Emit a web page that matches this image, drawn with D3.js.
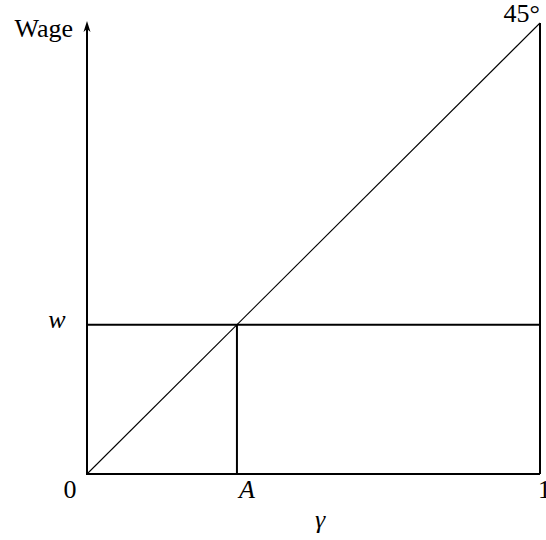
<html><head><script src="https://d3js.org/d3.v7.min.js"></script></head>
<body style="margin:0">
<script>
    // values (share of the unit square)
    const gammaRange = [0, 1];
    const wageRange = [0, 1];
    const pointA = 0.331;
    const wageW = 0.331;
    const diagonal = [[0, 0], [1, 1]];
    const xTickLabels = [{v: 0, t: "0", dx: -17}, {v: pointA, t: "A", it: true, dx: 10}, {v: 1, t: "1", dx: -2}];

    const svg = d3.select("body").append("svg").attr("width", 546).attr("height", 540);

    const x = d3.scaleLinear().domain(gammaRange).range([87, 540]);
    const y = d3.scaleLinear().domain(wageRange).range([474, 23]);

    const line = d3.line().x(d => x(d[0])).y(d => y(d[1]));

    // thin 45 degree line
    svg.append("path").attr("d", line(diagonal))
        .attr("fill", "none").attr("stroke", "#000").attr("stroke-width", 1.1);

    const thick = [
        [[0, 0], [1, 0]],                 // x axis
        [[1, 0], [1, 1]],                 // right side
        [[0, wageW], [1, wageW]],         // wage line
        [[pointA, 0], [pointA, wageW]]    // A drop line
    ];
    svg.selectAll("path.thick").data(thick).join("path")
        .attr("class", "thick")
        .attr("d", line)
        .attr("fill", "none").attr("stroke", "#000").attr("stroke-width", 2);

    // y axis with arrow
    svg.append("line")
        .attr("x1", x(0)).attr("x2", x(0))
        .attr("y1", y(0) + 1).attr("y2", y(1) + 4)
        .attr("stroke", "#000").attr("stroke-width", 2);
    svg.append("path")
        .attr("d", `M${x(0)},${y(1) - 2} L${x(0) - 3.5},${y(1) + 9} L${x(0)},${y(1) + 6} L${x(0) + 3.5},${y(1) + 9} Z`)
        .attr("fill", "#000");

    const label = (tx, ty, t, anchor, italic) => {
        const el = svg.append("text")
            .attr("x", tx).attr("y", ty)
            .attr("font-family", "Liberation Serif").attr("font-size", 26)
            .attr("text-anchor", anchor).text(t);
        if (italic) el.attr("font-style", "italic");
        return el;
    };

    label(73, 37, "Wage", "end", false);
    label(x(1), y(1) - 1, "45°", "end", false);
    label(57, y(wageW) + 3, "w", "middle", true);

    xTickLabels.forEach(d => label(x(d.v) + d.dx, 498, d.t, d.v === 1 ? "start" : "middle", d.it));

    label(320, 528, "γ", "middle", true);
</script>
</body></html>
